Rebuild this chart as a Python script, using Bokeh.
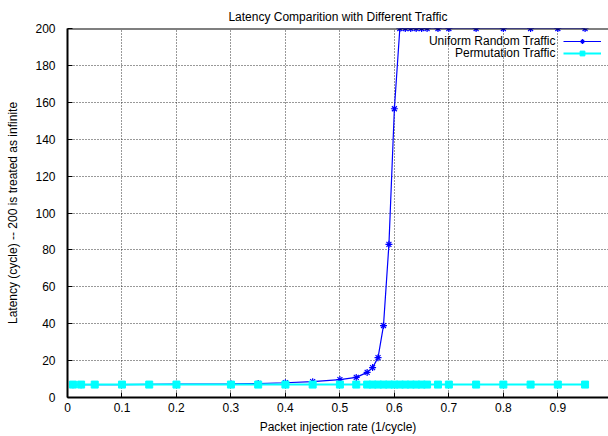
from bokeh.plotting import figure
from bokeh.models import Range1d, FixedTicker, Legend, LegendItem, Label, Span
from bokeh.embed import file_html
from bokeh.resources import INLINE

# ---- data ----
uniform_rate = [0.01, 0.025, 0.05, 0.1, 0.15, 0.2, 0.3, 0.35, 0.4, 0.45, 0.5, 0.53,
                0.55, 0.56, 0.57, 0.58, 0.59, 0.6, 0.61, 0.62, 0.63, 0.64, 0.65, 0.66,
                0.68, 0.7, 0.75, 0.8, 0.85, 0.9, 0.95]
uniform_latency = [6.9, 6.9, 7.0, 7.0, 7.1, 7.2, 7.4, 7.6, 8.0, 8.6, 9.7, 10.9,
                   13.6, 16.2, 21.6, 39.0, 83.0, 156.5, 200, 200, 200, 200, 200, 200,
                   200, 200, 200, 200, 200, 200, 200]
perm_rate = [0.01, 0.025, 0.05, 0.1, 0.15, 0.2, 0.3, 0.35, 0.4, 0.45, 0.5, 0.53,
             0.55, 0.56, 0.57, 0.58, 0.59, 0.6, 0.61, 0.62, 0.63, 0.64, 0.65, 0.66,
             0.68, 0.7, 0.75, 0.8, 0.85, 0.9, 0.95]
perm_latency = [7.0, 7.0, 7.0, 7.0, 7.0, 7.0, 7.0, 7.0, 7.0, 7.0, 7.0, 7.0,
                7.0, 7.0, 7.0, 7.0, 7.0, 7.0, 7.0, 7.0, 7.0, 7.0, 7.0, 7.0,
                7.0, 7.0, 7.0, 7.0, 7.0, 7.0, 7.0]
x_ticks = [0, 0.1, 0.2, 0.3, 0.4, 0.5, 0.6, 0.7, 0.8, 0.9]
x_tick_labels = ["0", "0.1", "0.2", "0.3", "0.4", "0.5", "0.6", "0.7", "0.8", "0.9"]
y_ticks = [0, 20, 40, 60, 80, 100, 120, 140, 160, 180, 200]
series_names = ["Uniform Random Traffic", "Permutation Traffic"]
title_text = "Latency Comparition with Different Traffic"
x_label = "Packet injection rate (1/cycle)"
y_label = "Latency (cycle) -- 200 is treated as infinite"

FONT = "Liberation Sans"
FS = "12px"

p = figure(width=608, height=436, output_backend="svg", toolbar_location=None,
           x_range=Range1d(0, 0.993), y_range=Range1d(0, 200),
           min_border_left=67, min_border_right=0, min_border_top=28, min_border_bottom=39,
           outline_line_color=None, background_fill_color="white")

p.title.text = title_text
p.title.align = "center"
p.title.vertical_align = "top"
p.title.text_baseline = "middle"
p.title.standoff = 6
p.title.text_font = FONT
p.title.text_font_size = FS
p.title.text_font_style = "normal"
p.title.text_color = "black"

for ax in (p.xaxis[0], p.yaxis[0]):
    ax.axis_line_width = 2
    ax.axis_line_color = "black"
    ax.major_tick_in = 5
    ax.major_tick_out = 0
    ax.minor_tick_in = 0
    ax.minor_tick_out = 0
    ax.major_tick_line_color = "black"
    ax.major_label_text_font = FONT
    ax.major_label_text_font_size = FS
    ax.major_label_text_color = "black"
    ax.axis_label_text_font = FONT
    ax.axis_label_text_font_size = FS
    ax.axis_label_text_font_style = "normal"
    ax.axis_label_text_color = "black"

p.xaxis.ticker = FixedTicker(ticks=x_ticks)
p.xaxis.major_label_overrides = {t: s for t, s in zip(x_ticks, x_tick_labels)}
p.xaxis.axis_label = x_label
p.xaxis.major_label_standoff = 5
p.xaxis.axis_label_standoff = 5
p.yaxis.ticker = FixedTicker(ticks=y_ticks)
p.yaxis.axis_label = y_label
p.yaxis.major_label_standoff = 12
p.yaxis.axis_label_standoff = 12

# top border of the frame
p.add_layout(Span(location=y_ticks[-1], dimension="width", line_color="black", line_width=2))

p.xgrid.ticker = FixedTicker(ticks=x_ticks)
p.ygrid.ticker = FixedTicker(ticks=y_ticks)
for g in (p.xgrid[0], p.ygrid[0]):
    g.grid_line_color = "#333333"
    g.grid_line_dash = "1 2"
    g.grid_line_width = 1

l1 = p.line(uniform_rate, uniform_latency, line_color="#0000ff", line_width=1.2)
s1 = p.scatter(uniform_rate, uniform_latency, marker="asterisk", size=7,
               line_color="#0000ff", line_width=1.2)
l2 = p.line(perm_rate, perm_latency, line_color="#00ffff", line_width=2)
s2 = p.scatter(perm_rate, perm_latency, marker="square", size=7,
               fill_color="#00ffff", line_color="#00ffff")

legend = Legend(items=[LegendItem(label=" ", renderers=[l1, s1]),
                       LegendItem(label=" ", renderers=[l2, s2])],
                location=(496, 338), glyph_width=38, glyph_height=12, label_height=12,
                label_width=0, label_standoff=0, spacing=0, padding=0, margin=0,
                border_line_alpha=0, background_fill_alpha=0, label_text_font_size="1px")
p.add_layout(legend)

for name, yy in zip(series_names, [193.3, 186.8]):
    p.add_layout(Label(x=0.896, y=yy, text=name, text_align="right", text_baseline="middle",
                       text_font=FONT, text_font_size=FS, text_color="black"))

open("out.html", "w").write(file_html(p, INLINE))
